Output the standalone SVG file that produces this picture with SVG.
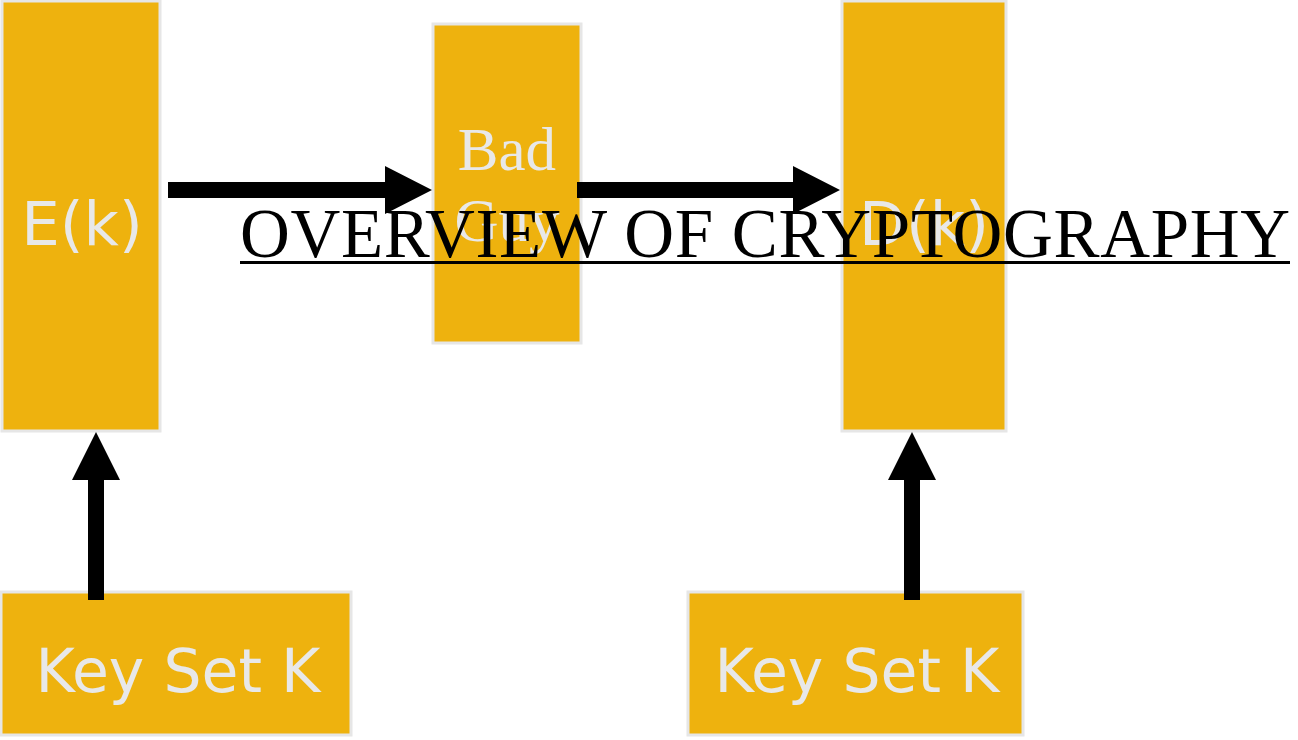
<svg xmlns="http://www.w3.org/2000/svg" width="1298" height="740" viewBox="0 0 1298 740">
<style>
.box{fill:#EEB20E;stroke:#E6E6E6;stroke-width:3}
.lbl{fill:#E8E8E8;font-family:"Comic Sans MS","DejaVu Sans",sans-serif;text-anchor:middle}
.serif{fill:#E8E8E8;font-family:"Liberation Serif",serif;text-anchor:middle}
.conn{fill:#000}
</style>
<rect width="1298" height="740" fill="#fff"/>
<g id="node-ek"><rect class="box" x="2" y="1" width="158" height="430"/><text class="lbl" x="82" y="245" font-size="61">E(k)</text></g>
<g id="node-badguy"><rect class="box" x="433" y="24" width="148" height="319"/><text class="serif" x="507" y="170" font-size="61">Bad</text><text class="serif" x="507" y="241" font-size="61">Guy</text></g>
<g id="node-dk"><rect class="box" x="842" y="1" width="164" height="430"/><text class="lbl" x="924" y="245" font-size="61">D(k)</text></g>
<g id="node-key1"><rect class="box" x="1" y="592" width="350" height="143"/><text class="lbl" x="178" y="692" font-size="60">Key Set K</text></g>
<g id="node-key2"><rect class="box" x="688" y="592" width="335" height="143"/><text class="lbl" x="857" y="692" font-size="60">Key Set K</text></g>
<g id="connectors">
<polygon class="conn" points="168,182 385,182 385,166 432,190 385,214 385,198 168,198"/>
<polygon class="conn" points="577,182 793,182 793,166 840,190 793,214 793,198 577,198"/>
<polygon class="conn" points="88,600 88,480 72,480 96,432 120,480 104,480 104,600"/>
<polygon class="conn" points="904,600 904,480 888,480 912,432 936,480 920,480 920,600"/>
</g>
<g id="title"><text x="240" y="257" font-family="Liberation Serif,serif" font-size="69" fill="#000" textLength="1050">OVERVIEW OF CRYPTOGRAPHY</text><rect x="240" y="261" width="1050" height="3" fill="#000"/></g>
</svg>
